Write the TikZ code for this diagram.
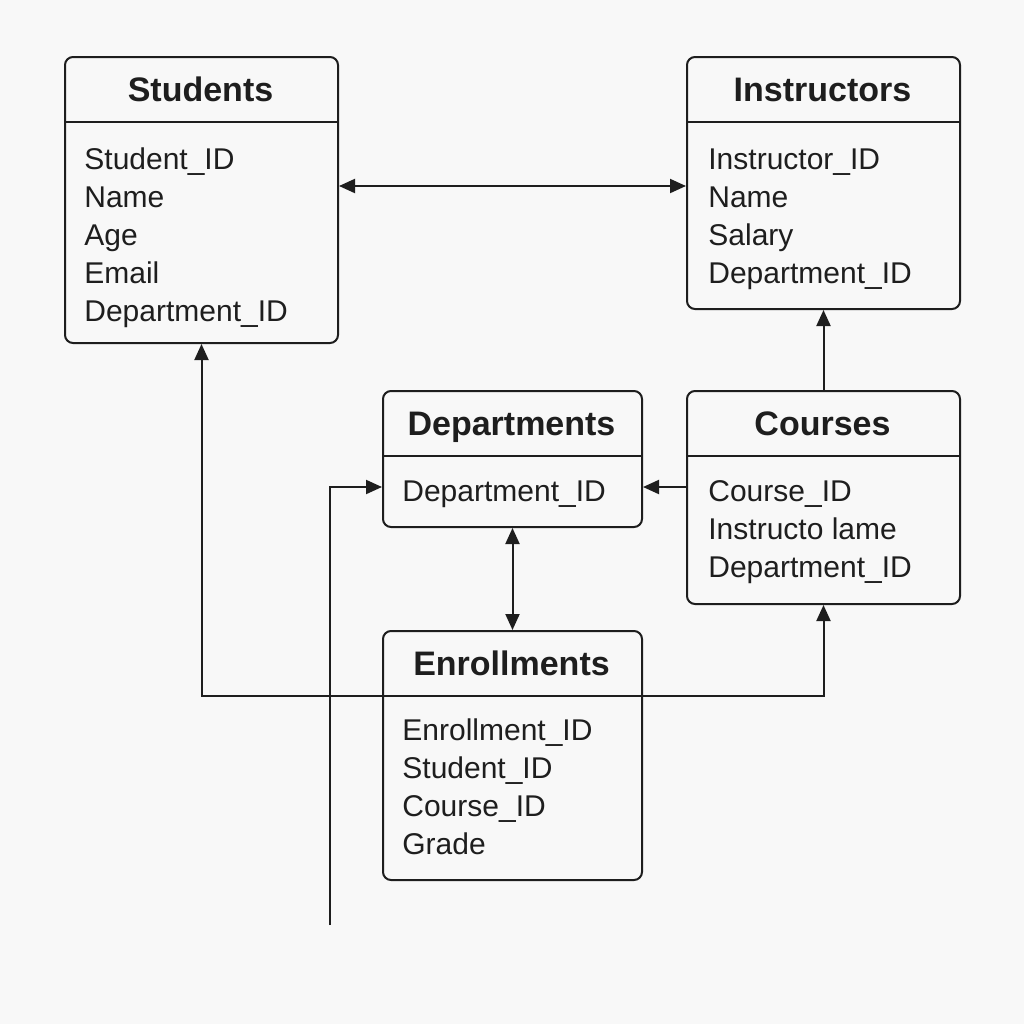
\documentclass[tikz,border=0pt]{standalone}
\usepackage{fontspec}
\setmainfont{Liberation Sans}
\usetikzlibrary{arrows.meta,positioning,calc}
\definecolor{bgc}{RGB}{248,248,248}
\definecolor{ink}{RGB}{30,30,30}

\begin{document}
\begin{tikzpicture}[x=0.5pt, y=-0.5pt,
    tbl/.style={draw=ink, line width=1pt, rounded corners=4pt, anchor=north west, inner sep=0pt},
    ttl/.style={font=\fontsize{17}{20}\selectfont\bfseries, text=ink, anchor=base, inner sep=0pt},
    fld/.style={font=\fontsize{15}{19}\selectfont, text=ink, anchor=base west, inner sep=0pt},
    lnk/.style={draw=ink, line width=1pt},
    >={Triangle[length=8pt,width=7pt]},
    ]
\fill[bgc] (0,0) rectangle (1024,1024);

% tables
\node[tbl, minimum width=136.5pt, minimum height=143pt] (stu) at (64,56) {};
\node[tbl, minimum width=136.5pt, minimum height=126pt] (ins) at (686,56) {};
\node[tbl, minimum width=129.5pt, minimum height=68pt] (dep) at (382,390) {};
\node[tbl, minimum width=136.5pt, minimum height=106.5pt] (crs) at (686,390) {};
\node[tbl, minimum width=129.5pt, minimum height=124.5pt] (enr) at (382,630) {};

\node[ttl] (stu-t) at (200.5,101) {Students};
\node[ttl] (ins-t) at (822.5,101) {Instructors};
\node[ttl] (dep-t) at (511.5,435) {Departments};
\node[ttl] (crs-t) at (822.5,435) {Courses};
\node[ttl] (enr-t) at (511.5,675) {Enrollments};

\draw[lnk] (stu.west |- 0,122) -- (stu.east |- 0,122);
\draw[lnk] (ins.west |- 0,122) -- (ins.east |- 0,122);
\draw[lnk] (dep.west |- 0,456) -- (dep.east |- 0,456);
\draw[lnk] (crs.west |- 0,456) -- (crs.east |- 0,456);
\draw[lnk] (enr.west |- 0,696) -- (enr.east |- 0,696);

% fields
\foreach \t [count=\i from 0] in {Student\_ID, Name, Age, Email, Department\_ID}
  \node[fld] (stu-\i) at (84,169+38*\i) {\t};
\foreach \t [count=\i from 0] in {Instructor\_ID, Name, Salary, Department\_ID}
  \node[fld] (ins-\i) at (708,169+38*\i) {\t};
\node[fld] (dep-0) at (402,501) {Department\_ID};
\foreach \t [count=\i from 0] in {Course\_ID, Instructo lame, Department\_ID}
  \node[fld] (crs-\i) at (708,501+38*\i) {\t};
\foreach \t [count=\i from 0] in {Enrollment\_ID, Student\_ID, Course\_ID, Grade}
  \node[fld] (enr-\i) at (402,740+38*\i) {\t};

% links
\coordinate (tail) at (330,925);
\draw[lnk, <->] (stu.east |- 0,186) -- (ins.west |- 0,186);
\draw[lnk, ->] (crs.north) -- (ins.south);
\draw[lnk, ->] (crs.west |- 0,487) -- (dep.east |- 0,487);
\draw[lnk, <->] (dep.south) -- (enr.north);
\draw[lnk, ->] (enr.west |- 0,696) -| (stu.south);
\draw[lnk, ->] (enr.east |- 0,696) -| (crs.south);
\draw[lnk, ->] (tail) |- (dep.west |- 0,487);
\end{tikzpicture}
\end{document}
